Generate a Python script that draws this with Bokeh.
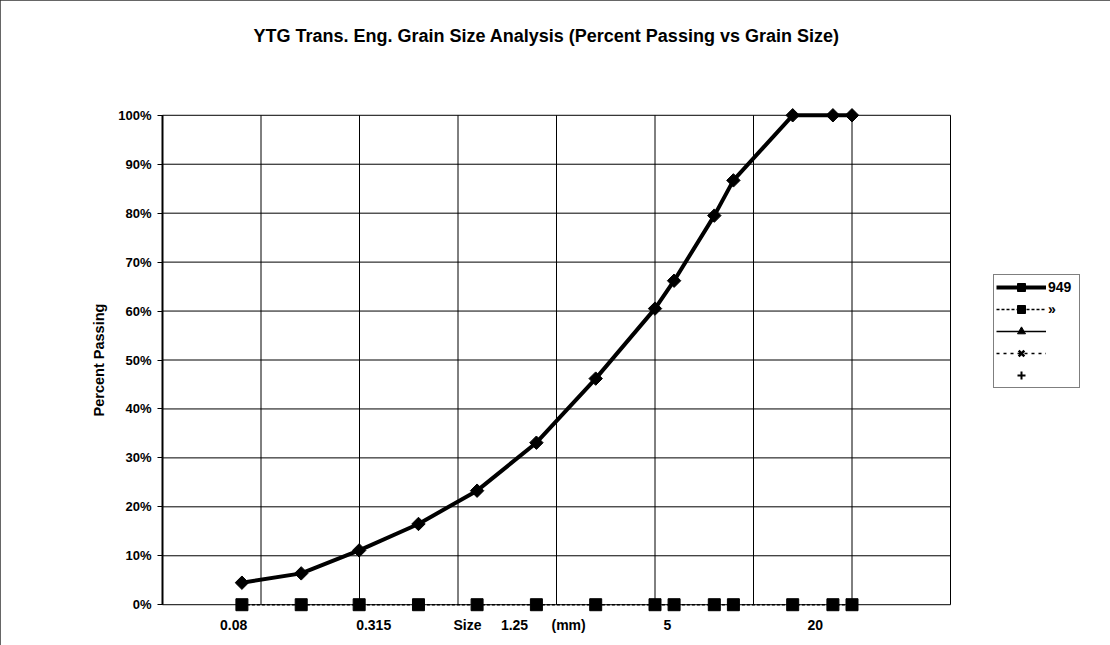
import math
from bokeh.plotting import figure
from bokeh.models import Range1d, FixedTicker, NumeralTickFormatter, Legend, LegendItem, LogAxis
from bokeh.embed import file_html
from bokeh.resources import INLINE

# ---- data ----
sizes_mm = [0.08, 0.16, 0.315, 0.63, 1.25, 2.5, 5, 10, 12.5, 20, 25, 50, 80, 100]
pass_949 = [0.045, 0.064, 0.111, 0.165, 0.233, 0.331, 0.462, 0.605, 0.662, 0.795, 0.867, 1.0, 1.0, 1.0]
pass_s2 = [0, 0, 0, 0, 0, 0, 0, 0, 0, 0, 0, 0, 0, 0]
# series 3-5 have no plotted values (legend entries only)
no_x = [float("nan")]
no_y = [float("nan")]
series_names = ["949", "\u00bb", " ", " ", " "]
y_ticks = [0, 0.1, 0.2, 0.3, 0.4, 0.5, 0.6, 0.7, 0.8, 0.9, 1.0]
x_grid = [10 ** -1.5, 0.1, 10 ** -0.5, 1, 10 ** 0.5, 10, 10 ** 1.5, 100, 10 ** 2.5]
x_title_parts = ["0.08", "0.315", "Size", "1.25", "(mm)", "5", "20"]
x_title_gaps = [28, 16, 5, 6, 20, 35]
title_text = "YTG Trans. Eng. Grain Size Analysis (Percent Passing vs Grain Size)"

FONT = "Liberation Sans"
NB = "\u00a0"

x_title = x_title_parts[0]
for part, gap in zip(x_title_parts[1:], x_title_gaps):
    x_title += NB * gap + part
x_title += NB * 18

# layout (pixels)
DECADE_PX = 197
PAD_X = 2
frame_w = 792
frame_h = 509
pad_dec = PAD_X / DECADE_PX
pad_y = 0.02

x_lo = 10 ** (math.log10(x_grid[0]) - pad_dec)
x_hi = 10 ** (math.log10(x_grid[-1]) + pad_dec)

p = figure(frame_width=frame_w, frame_height=frame_h,
           x_axis_type="log",
           x_range=Range1d(x_lo, x_hi),
           y_range=Range1d(-pad_y, 1 + pad_y),
           output_backend="svg", toolbar_location=None,
           min_border_left=160, min_border_right=158,
           min_border_top=105, min_border_bottom=31)
p.styles = {"outline": "1px solid #333", "outline-offset": "-1px"}

p.background_fill_color = "white"
p.border_fill_color = "white"
p.outline_line_color = None
p.xgrid.visible = False
p.ygrid.visible = False

# bottom x axis: title only
xax = p.below[0]
xax.ticker = FixedTicker(ticks=[])
xax.axis_line_color = None
xax.major_tick_line_color = None
xax.minor_tick_line_color = None
xax.axis_label = x_title
xax.axis_label_text_font = FONT
xax.axis_label_text_font_size = "14px"
xax.axis_label_text_font_style = "bold"
xax.axis_label_text_color = "black"
xax.axis_label_standoff = 2

# chart title as an axis label above the frame
top_axis = LogAxis(ticker=FixedTicker(ticks=[]))
top_axis.axis_line_color = None
top_axis.major_tick_line_color = None
top_axis.minor_tick_line_color = None
top_axis.axis_label = title_text + NB * 4
top_axis.axis_label_text_font = FONT
top_axis.axis_label_text_font_size = "18px"
top_axis.axis_label_text_font_style = "bold"
top_axis.axis_label_text_color = "black"
top_axis.axis_label_standoff = 60
p.add_layout(top_axis, "above")

# y axis
yax = p.left[0]
yax.ticker = FixedTicker(ticks=y_ticks)
yax.formatter = NumeralTickFormatter(format="0%")
yax.major_label_text_font = FONT
yax.major_label_text_font_size = "13px"
yax.major_label_text_font_style = "bold"
yax.major_label_text_color = "black"
yax.major_tick_out = 3
yax.major_tick_in = 2
yax.major_tick_line_color = "black"
yax.minor_tick_line_color = None
yax.axis_line_color = None
yax.major_label_standoff = 6
yax.axis_label = "Percent Passing"
yax.axis_label_text_font = FONT
yax.axis_label_text_font_size = "14.5px"
yax.axis_label_text_font_style = "bold"
yax.axis_label_text_color = "black"
yax.axis_label_standoff = 8

# grid lines and plot-area frame drawn from tick lists
p.segment(x0=x_grid, x1=x_grid, y0=[y_ticks[0]] * len(x_grid), y1=[y_ticks[-1]] * len(x_grid),
          line_color="black", line_width=1)
p.segment(x0=[x_grid[0]] * len(y_ticks), x1=[x_grid[-1]] * len(y_ticks), y0=y_ticks, y1=y_ticks,
          line_color="black", line_width=1)
p.segment(x0=[x_grid[0]], x1=[x_grid[0]], y0=[y_ticks[0]], y1=[y_ticks[-1]],
          line_color="black", line_width=2)

# series 2: squares on dotted line
r2l = p.line(sizes_mm, pass_s2, line_color="black", line_width=1.5, line_dash="3 2")
r2m = p.scatter(sizes_mm, pass_s2, marker="square", size=12, fill_color="black", line_color="black")

# series 949
r1l = p.line(sizes_mm, pass_949, line_color="black", line_width=4)
r1m = p.scatter(sizes_mm, pass_949, marker="square", angle=math.pi / 4, size=9.5,
                fill_color="black", line_color="black")

# series 3-5 (legend only)
r3l = p.line(no_x, no_y, line_color="black", line_width=1.5)
r3m = p.scatter(no_x, no_y, marker="triangle", size=9, fill_color="black", line_color="black")
r4l = p.line(no_x, no_y, line_color="black", line_width=1.5, line_dash="3 4")
r4m = p.scatter(no_x, no_y, marker="x", size=10, line_color="black", line_width=2.5)
r5m = p.scatter(no_x, no_y, marker="cross", size=10, line_color="black", line_width=2)

legend = Legend(items=[
    LegendItem(label=series_names[0], renderers=[r1l, r1m]),
    LegendItem(label=series_names[1], renderers=[r2l, r2m]),
    LegendItem(label=series_names[2], renderers=[r3l, r3m]),
    LegendItem(label=series_names[3], renderers=[r4l, r4m]),
    LegendItem(label=series_names[4], renderers=[r5m]),
], location=(41, 226))
legend.border_line_color = "black"
legend.border_line_width = 1
legend.background_fill_color = "white"
legend.background_fill_alpha = 1
legend.label_text_font = FONT
legend.label_text_font_size = "14px"
legend.label_text_font_style = "bold"
legend.label_text_color = "black"
legend.glyph_width = 50
legend.glyph_height = 20
legend.spacing = 2
legend.padding = 2
legend.margin = 0
legend.label_standoff = 2
legend.label_width = 29
p.add_layout(legend, "right")

open("out.html", "w").write(file_html(p, INLINE))
